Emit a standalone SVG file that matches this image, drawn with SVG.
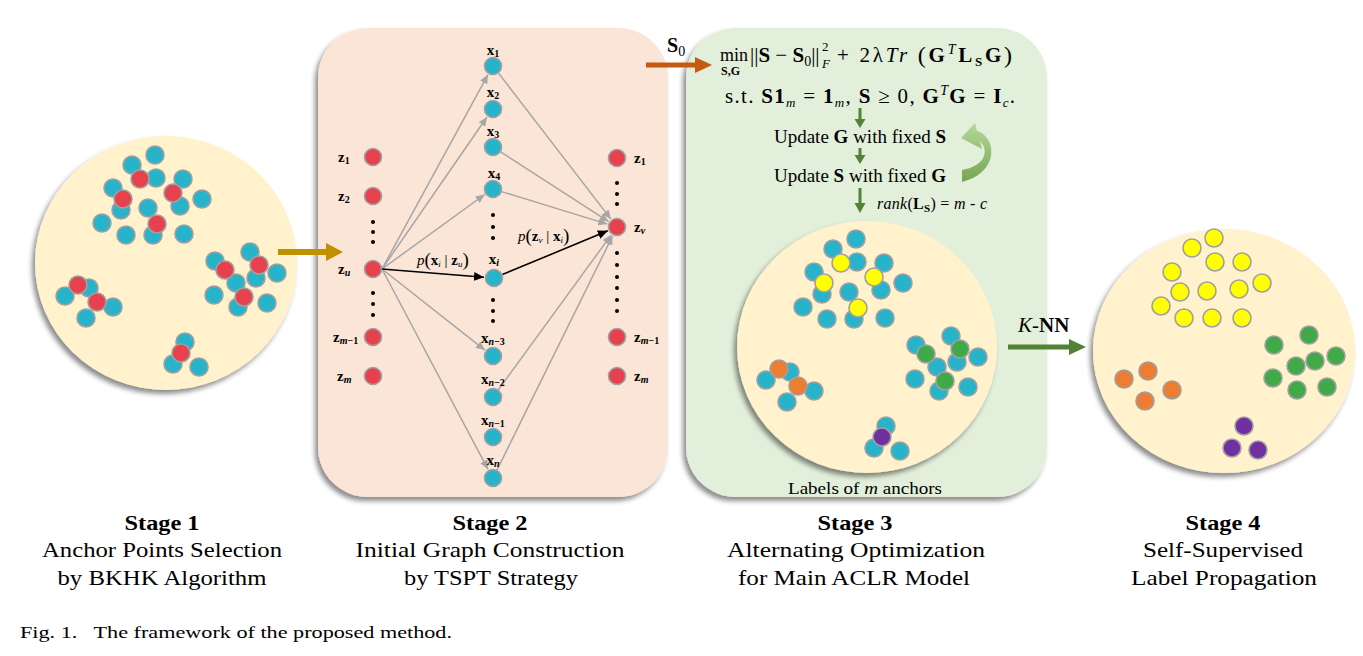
<svg xmlns="http://www.w3.org/2000/svg" width="1363" height="656" viewBox="0 0 1363 656">
<defs>
<style>
.t{fill:#27B4CB;stroke:#A0A0A0;stroke-width:1.6}
.r{fill:#E8414E;stroke:#A0A0A0;stroke-width:1.6}
.y{fill:#FFFF00;stroke:#A0A0A0;stroke-width:1.6}
.g{fill:#3FAA47;stroke:#A0A0A0;stroke-width:1.6}
.o{fill:#ED7D31;stroke:#A0A0A0;stroke-width:1.6}
.p{fill:#7030A0;stroke:#A0A0A0;stroke-width:1.6}
.bg{fill:#FFF2CC}
.ser{font-family:"Liberation Serif","Times New Roman",serif;fill:#000}
.lbl{font-family:"Liberation Serif","Times New Roman",serif;font-size:15px;font-weight:bold;fill:#000}
.st{font-family:"Liberation Serif",serif;font-size:22px;text-anchor:middle;fill:#000}
.eg{stroke:#A6A6A6;stroke-width:1.5;fill:none}
.eb{stroke:#000;stroke-width:1.6;fill:none}
.dot{fill:#000}
</style>
<filter id="sh" x="-10%" y="-10%" width="120%" height="120%">
<feDropShadow dx="-3" dy="4" stdDeviation="2.5" flood-color="#000" flood-opacity="0.45"/>
</filter>
<marker id="ag" markerUnits="userSpaceOnUse" markerWidth="10" markerHeight="8" refX="9" refY="4" orient="auto"><path d="M0,0 L9,4 L0,8 Z" fill="#A6A6A6"/></marker>
<marker id="ab" markerUnits="userSpaceOnUse" markerWidth="11" markerHeight="9" refX="10" refY="4.5" orient="auto"><path d="M0,0 L10,4.5 L0,9 Z" fill="#000"/></marker>
<linearGradient id="cg" x1="0" y1="0" x2="0" y2="1"><stop offset="0" stop-color="#B5D99A"/><stop offset="1" stop-color="#75A552"/></linearGradient>
</defs>
<rect width="1363" height="656" fill="#FFFFFF"/>

<!-- panels -->
<g id="panel2"><rect x="318" y="28" width="350" height="469" rx="50" fill="#FBE5D6" filter="url(#sh)"/></g>
<g id="panel3"><rect x="686" y="28" width="361" height="469" rx="50" fill="#E2EFDA" filter="url(#sh)"/></g>

<!-- Stage 1 -->
<g id="stage1">
<ellipse class="bg" cx="166" cy="263" rx="131" ry="127" filter="url(#sh)"/>
<circle class="t" cx="155" cy="155" r="9"/><circle class="t" cx="132" cy="165" r="9"/><circle class="t" cx="156" cy="178" r="9"/><circle class="t" cx="183" cy="179" r="9"/><circle class="t" cx="113" cy="188" r="9"/><circle class="t" cx="202" cy="199" r="9"/><circle class="t" cx="121" cy="210" r="9"/><circle class="t" cx="180" cy="206" r="9"/><circle class="t" cx="102" cy="223" r="9"/><circle class="t" cx="126" cy="235" r="9"/><circle class="t" cx="153" cy="235" r="9"/><circle class="t" cx="148" cy="208" r="9"/><circle class="t" cx="184" cy="234" r="9"/>
<circle class="t" cx="89" cy="288" r="9"/><circle class="t" cx="65" cy="296" r="9"/><circle class="t" cx="113" cy="307" r="9"/><circle class="t" cx="86" cy="318" r="9"/>
<circle class="t" cx="250" cy="252" r="9"/><circle class="t" cx="215" cy="261" r="9"/><circle class="t" cx="256" cy="278" r="9"/><circle class="t" cx="277" cy="273" r="9"/><circle class="t" cx="236" cy="283" r="9"/><circle class="t" cx="214" cy="295" r="9"/><circle class="t" cx="238" cy="307" r="9"/><circle class="t" cx="267" cy="303" r="9"/>
<circle class="t" cx="185" cy="342" r="9"/><circle class="t" cx="173" cy="364" r="9"/><circle class="t" cx="199" cy="367" r="9"/>
<circle class="r" cx="140" cy="179" r="9"/><circle class="r" cx="173" cy="193" r="9"/><circle class="r" cx="123" cy="199" r="9"/><circle class="r" cx="157" cy="224" r="9"/>
<circle class="r" cx="78" cy="285" r="9"/><circle class="r" cx="97" cy="302" r="9"/>
<circle class="r" cx="225" cy="270" r="9"/><circle class="r" cx="259" cy="265" r="9"/><circle class="r" cx="244" cy="297" r="9"/>
<circle class="r" cx="181" cy="353" r="9"/>
</g>

<!-- Stage 3 circle -->
<g id="stage3-circle">
<ellipse class="bg" cx="867" cy="347" rx="130" ry="126" filter="url(#sh)"/>
<g transform="translate(701,84)">
<circle class="t" cx="155" cy="155" r="9"/><circle class="t" cx="132" cy="165" r="9"/><circle class="t" cx="156" cy="178" r="9"/><circle class="t" cx="183" cy="179" r="9"/><circle class="t" cx="113" cy="188" r="9"/><circle class="t" cx="202" cy="199" r="9"/><circle class="t" cx="121" cy="210" r="9"/><circle class="t" cx="180" cy="206" r="9"/><circle class="t" cx="102" cy="223" r="9"/><circle class="t" cx="126" cy="235" r="9"/><circle class="t" cx="153" cy="235" r="9"/><circle class="t" cx="148" cy="208" r="9"/><circle class="t" cx="184" cy="234" r="9"/>
<circle class="t" cx="89" cy="288" r="9"/><circle class="t" cx="65" cy="296" r="9"/><circle class="t" cx="113" cy="307" r="9"/><circle class="t" cx="86" cy="318" r="9"/>
<circle class="t" cx="250" cy="252" r="9"/><circle class="t" cx="215" cy="261" r="9"/><circle class="t" cx="256" cy="278" r="9"/><circle class="t" cx="277" cy="273" r="9"/><circle class="t" cx="236" cy="283" r="9"/><circle class="t" cx="214" cy="295" r="9"/><circle class="t" cx="238" cy="307" r="9"/><circle class="t" cx="267" cy="303" r="9"/>
<circle class="t" cx="185" cy="342" r="9"/><circle class="t" cx="173" cy="364" r="9"/><circle class="t" cx="199" cy="367" r="9"/>
<circle class="y" cx="140" cy="179" r="9"/><circle class="y" cx="173" cy="193" r="9"/><circle class="y" cx="123" cy="199" r="9"/><circle class="y" cx="157" cy="224" r="9"/>
<circle class="o" cx="78" cy="285" r="9"/><circle class="o" cx="97" cy="302" r="9"/>
<circle class="g" cx="225" cy="270" r="9"/><circle class="g" cx="259" cy="265" r="9"/><circle class="g" cx="244" cy="297" r="9"/>
<circle class="p" cx="181" cy="353" r="9"/>
</g>
<text class="ser" x="865" y="494" font-size="17" text-anchor="middle" textLength="154" lengthAdjust="spacingAndGlyphs">Labels of <tspan font-style="italic">m</tspan> anchors</text>
</g>

<!-- Stage 4 -->
<g id="stage4">
<ellipse class="bg" cx="1224" cy="351" rx="131" ry="122" filter="url(#sh)"/>
<circle class="y" cx="1214" cy="238" r="9"/><circle class="y" cx="1192" cy="248" r="9"/><circle class="y" cx="1215" cy="262" r="9"/><circle class="y" cx="1242" cy="262" r="9"/><circle class="y" cx="1172" cy="272" r="9"/><circle class="y" cx="1262" cy="283" r="9"/><circle class="y" cx="1180" cy="292" r="9"/><circle class="y" cx="1207" cy="291" r="9"/><circle class="y" cx="1239" cy="289" r="9"/><circle class="y" cx="1161" cy="306" r="9"/><circle class="y" cx="1184" cy="318" r="9"/><circle class="y" cx="1212" cy="318" r="9"/><circle class="y" cx="1242" cy="318" r="9"/>
<circle class="g" cx="1309" cy="335" r="9"/><circle class="g" cx="1274" cy="345" r="9"/><circle class="g" cx="1315" cy="361" r="9"/><circle class="g" cx="1336" cy="356" r="9"/><circle class="g" cx="1296" cy="366" r="9"/><circle class="g" cx="1273" cy="378" r="9"/><circle class="g" cx="1297" cy="390" r="9"/><circle class="g" cx="1327" cy="387" r="9"/>
<circle class="o" cx="1148" cy="371" r="9"/><circle class="o" cx="1124" cy="379" r="9"/><circle class="o" cx="1172" cy="390" r="9"/><circle class="o" cx="1145" cy="401" r="9"/>
<circle class="p" cx="1244" cy="426" r="9"/><circle class="p" cx="1232" cy="448" r="9"/><circle class="p" cx="1258" cy="450" r="9"/>
</g>

<!-- connectors -->
<g id="connectors">
<line class="eg" x1="382" y1="269" x2="488" y2="74.6" marker-end="url(#ag)"/>
<line class="eg" x1="382" y1="269" x2="487" y2="117" marker-end="url(#ag)"/>
<line class="eg" x1="382" y1="269" x2="484.7" y2="194.5" marker-end="url(#ag)"/>
<line class="eg" x1="382" y1="269" x2="484.9" y2="350.1" marker-end="url(#ag)"/>
<line class="eg" x1="382" y1="269" x2="488" y2="469.3" marker-end="url(#ag)"/>
<line class="eb" x1="382" y1="269" x2="484" y2="277.3" marker-end="url(#ab)"/>
<line class="eg" x1="498.5" y1="73.1" x2="610.9" y2="219.1" marker-end="url(#ag)"/>
<line class="eg" x1="500.6" y1="151.9" x2="608.6" y2="221.6" marker-end="url(#ag)"/>
<line class="eg" x1="501.6" y1="191.6" x2="607.4" y2="224.1" marker-end="url(#ag)"/>
<line class="eg" x1="498.3" y1="389.7" x2="611.1" y2="235.1" marker-end="url(#ag)"/>
<line class="eg" x1="497" y1="470" x2="612.6" y2="236" marker-end="url(#ag)"/>
<line class="eb" x1="502.3" y1="274.6" x2="607.8" y2="230.8" marker-end="url(#ab)"/>
<line x1="278" y1="252" x2="328" y2="252" stroke="#BF9000" stroke-width="6"/>
<polygon points="326,243 343,252 326,261" fill="#BF9000"/>
<line x1="646" y1="65" x2="698" y2="65" stroke="#C55A11" stroke-width="5"/>
<polygon points="695,57 712,65 695,73" fill="#C55A11"/>
<line x1="1008" y1="347" x2="1072" y2="347" stroke="#548235" stroke-width="5"/>
<polygon points="1069,339 1086,347 1069,355" fill="#548235"/>
<line x1="860" y1="108" x2="860" y2="120" stroke="#548235" stroke-width="3"/>
<polygon points="854.5,119 865.5,119 860,128" fill="#548235"/>
<line x1="860" y1="148" x2="860" y2="156" stroke="#548235" stroke-width="3"/>
<polygon points="854.5,155 865.5,155 860,164" fill="#548235"/>
<line x1="860" y1="188" x2="860" y2="204" stroke="#548235" stroke-width="3"/>
<polygon points="854.5,203 865.5,203 860,213" fill="#548235"/>
<path d="M961 138 L975 123 L977 131 C996 136 1001 172 962 182 L962 170 C986 166 989 150 980 141 L982 149 Z" fill="url(#cg)"/>
</g>

<!-- Stage 2 nodes -->
<g id="z-left">
<g id="zl1"><circle class="r" cx="373" cy="157" r="8.5"/><text class="lbl" x="338" y="162">z<tspan font-size="10" dy="2">1</tspan></text></g>
<g id="zl2"><circle class="r" cx="373" cy="196" r="8.5"/><text class="lbl" x="338" y="201">z<tspan font-size="10" dy="2">2</tspan></text></g>
<g id="zlu"><circle class="r" cx="373" cy="269" r="8.5"/><text class="lbl" x="338" y="274">z<tspan font-size="10" dy="2" font-style="italic">u</tspan></text></g>
<g id="zlm1"><circle class="r" cx="373" cy="337" r="8.5"/><text class="lbl" x="333" y="342">z<tspan font-size="10" dy="2"><tspan font-style="italic">m</tspan>−1</tspan></text></g>
<g id="zlm"><circle class="r" cx="373" cy="376" r="8.5"/><text class="lbl" x="337" y="381">z<tspan font-size="10" dy="2" font-style="italic">m</tspan></text></g>
<circle class="dot" cx="373" cy="222" r="2"/><circle class="dot" cx="373" cy="232" r="2"/><circle class="dot" cx="373" cy="242" r="2"/>
<circle class="dot" cx="373" cy="293" r="2"/><circle class="dot" cx="373" cy="304" r="2"/><circle class="dot" cx="373" cy="315" r="2"/>
</g>
<g id="x-mid">
<g id="x1"><circle class="t" cx="493" cy="66" r="8.5"/><text class="lbl" x="493" y="55" text-anchor="middle">x<tspan font-size="10" dy="2">1</tspan></text></g>
<g id="x2"><circle class="t" cx="493" cy="109" r="8.5"/><text class="lbl" x="493" y="97" text-anchor="middle">x<tspan font-size="10" dy="2">2</tspan></text></g>
<g id="x3"><circle class="t" cx="493" cy="147" r="8.5"/><text class="lbl" x="493" y="136" text-anchor="middle">x<tspan font-size="10" dy="2">3</tspan></text></g>
<g id="x4"><circle class="t" cx="493" cy="189" r="8.5"/><text class="lbl" x="494" y="178" text-anchor="middle">x<tspan font-size="10" dy="2">4</tspan></text></g>
<g id="xi"><circle class="t" cx="494" cy="278" r="8.5"/><text class="lbl" x="494" y="264" text-anchor="middle">x<tspan font-size="10" dy="2" font-style="italic">i</tspan></text></g>
<g id="xn3"><circle class="t" cx="493" cy="356" r="8.5"/><text class="lbl" x="493" y="343" text-anchor="middle">x<tspan font-size="10" dy="2"><tspan font-style="italic">n</tspan>−3</tspan></text></g>
<g id="xn2"><circle class="t" cx="493" cy="397" r="8.5"/><text class="lbl" x="493" y="384" text-anchor="middle">x<tspan font-size="10" dy="2"><tspan font-style="italic">n</tspan>−2</tspan></text></g>
<g id="xn1"><circle class="t" cx="493" cy="437" r="8.5"/><text class="lbl" x="493" y="425" text-anchor="middle">x<tspan font-size="10" dy="2"><tspan font-style="italic">n</tspan>−1</tspan></text></g>
<g id="xn"><circle class="t" cx="493" cy="478" r="8.5"/><text class="lbl" x="493" y="465" text-anchor="middle">x<tspan font-size="10" dy="2" font-style="italic">n</tspan></text></g>
<circle class="dot" cx="493" cy="215" r="2"/><circle class="dot" cx="493" cy="227" r="2"/><circle class="dot" cx="493" cy="238" r="2"/>
<circle class="dot" cx="493" cy="300" r="2"/><circle class="dot" cx="493" cy="311" r="2"/><circle class="dot" cx="493" cy="321" r="2"/>
</g>
<g id="z-right">
<g id="zr1"><circle class="r" cx="617" cy="158" r="8.5"/><text class="lbl" x="634" y="163">z<tspan font-size="10" dy="2">1</tspan></text></g>
<g id="zrv"><circle class="r" cx="617" cy="227" r="8.5"/><text class="lbl" x="634" y="232">z<tspan font-size="10" dy="2" font-style="italic">v</tspan></text></g>
<g id="zrm1"><circle class="r" cx="617" cy="337" r="8.5"/><text class="lbl" x="634" y="342">z<tspan font-size="10" dy="2"><tspan font-style="italic">m</tspan>−1</tspan></text></g>
<g id="zrm"><circle class="r" cx="617" cy="376" r="8.5"/><text class="lbl" x="634" y="381">z<tspan font-size="10" dy="2" font-style="italic">m</tspan></text></g>
<circle class="dot" cx="617" cy="183" r="2"/><circle class="dot" cx="617" cy="194" r="2"/><circle class="dot" cx="617" cy="204" r="2"/>
<circle class="dot" cx="617" cy="253" r="2"/><circle class="dot" cx="617" cy="265" r="2"/><circle class="dot" cx="617" cy="277" r="2"/><circle class="dot" cx="617" cy="288" r="2"/><circle class="dot" cx="617" cy="300" r="2"/><circle class="dot" cx="617" cy="311" r="2"/>
</g>
<g id="edge-labels">
<text class="ser" x="417" y="265" font-size="15"><tspan font-style="italic">p</tspan><tspan font-size="19" dy="1">(</tspan><tspan font-weight="bold" dy="-1">x</tspan><tspan font-size="9" dy="2" font-style="italic">i</tspan><tspan dy="-2"> | </tspan><tspan font-weight="bold">z</tspan><tspan font-size="9" dy="2" font-style="italic">u</tspan><tspan font-size="19" dy="-1">)</tspan></text>
<text class="ser" x="518" y="241" font-size="15"><tspan font-style="italic">p</tspan><tspan font-size="19" dy="1">(</tspan><tspan font-weight="bold" dy="-1">z</tspan><tspan font-size="9" dy="2" font-style="italic">v</tspan><tspan dy="-2"> | </tspan><tspan font-weight="bold">x</tspan><tspan font-size="9" dy="2" font-style="italic">i</tspan><tspan font-size="19" dy="-1">)</tspan></text>
</g>

<!-- Stage 3 texts -->
<g id="optim">
<text class="ser" x="667" y="52" font-size="20" font-weight="bold">S<tspan font-size="14" font-weight="normal" dy="4">0</tspan></text>
<text class="ser" x="720" y="61" font-size="18">min</text>
<text class="ser" x="721" y="75" font-size="12" font-weight="bold">S,G</text>
<text class="ser" x="750" y="62" font-size="21">||<tspan font-weight="bold">S</tspan> − <tspan font-weight="bold">S</tspan><tspan font-size="14" dy="4">0</tspan><tspan dy="-4">||</tspan></text>
<text class="ser" x="822" y="51" font-size="13">2</text>
<text class="ser" x="822" y="68" font-size="13" font-style="italic">F</text>
<text class="ser" x="837" y="62" font-size="21" textLength="175" lengthAdjust="spacing">+ 2λ<tspan font-style="italic">Tr</tspan> <tspan font-size="24" dy="1">(</tspan><tspan font-weight="bold" dy="-1">G</tspan><tspan font-size="14" font-style="italic" dy="-8">T</tspan><tspan font-weight="bold" dy="8">L</tspan><tspan font-size="13" font-weight="bold" dy="4">S</tspan><tspan font-weight="bold" dy="-4">G</tspan><tspan font-size="24" dy="1">)</tspan></text>
<text class="ser" x="725" y="103" font-size="21" textLength="290" lengthAdjust="spacing">s.t. <tspan font-weight="bold">S1</tspan><tspan font-size="13" font-style="italic" dy="4">m</tspan><tspan dy="-4"> = </tspan><tspan font-weight="bold">1</tspan><tspan font-size="13" font-style="italic" dy="4">m</tspan><tspan dy="-4">, </tspan><tspan font-weight="bold">S</tspan> ≥ 0, <tspan font-weight="bold">G</tspan><tspan font-size="14" font-style="italic" dy="-8">T</tspan><tspan font-weight="bold" dy="8">G</tspan> = <tspan font-weight="bold">I</tspan><tspan font-size="13" font-style="italic" dy="4">c</tspan><tspan dy="-4">.</tspan></text>
<text class="ser" x="860" y="143" font-size="19" text-anchor="middle">Update <tspan font-weight="bold">G</tspan> with fixed <tspan font-weight="bold">S</tspan></text>
<text class="ser" x="860" y="182" font-size="19" text-anchor="middle">Update <tspan font-weight="bold">S</tspan> with fixed <tspan font-weight="bold">G</tspan></text>
<text class="ser" x="877" y="209" font-size="16" textLength="110" lengthAdjust="spacing"><tspan font-style="italic">rank</tspan>(<tspan font-weight="bold">L</tspan><tspan font-size="11" font-weight="bold" dy="3">S</tspan><tspan dy="-3">) = </tspan><tspan font-style="italic">m</tspan> - <tspan font-style="italic">c</tspan></text>
<text class="ser" x="1018" y="332" font-size="21"><tspan font-style="italic">K</tspan>-<tspan font-weight="bold">NN</tspan></text>
</g>

<!-- Stage labels -->
<g id="labels">
<text class="st" x="162" y="530" font-weight="bold" textLength="75" lengthAdjust="spacingAndGlyphs">Stage 1</text>
<text class="st" x="162" y="557" textLength="240" lengthAdjust="spacingAndGlyphs">Anchor Points Selection</text>
<text class="st" x="162" y="585" textLength="209" lengthAdjust="spacingAndGlyphs">by BKHK Algorithm</text>
<text class="st" x="490" y="530" font-weight="bold" textLength="75" lengthAdjust="spacingAndGlyphs">Stage 2</text>
<text class="st" x="490" y="557" textLength="269" lengthAdjust="spacingAndGlyphs">Initial Graph Construction</text>
<text class="st" x="491" y="585" textLength="174" lengthAdjust="spacingAndGlyphs">by TSPT Strategy</text>
<text class="st" x="855" y="530" font-weight="bold" textLength="75" lengthAdjust="spacingAndGlyphs">Stage 3</text>
<text class="st" x="856" y="557" textLength="258" lengthAdjust="spacingAndGlyphs">Alternating Optimization</text>
<text class="st" x="854" y="585" textLength="232" lengthAdjust="spacingAndGlyphs">for Main ACLR Model</text>
<text class="st" x="1223" y="530" font-weight="bold" textLength="75" lengthAdjust="spacingAndGlyphs">Stage 4</text>
<text class="st" x="1223" y="557" textLength="160" lengthAdjust="spacingAndGlyphs">Self-Supervised</text>
<text class="st" x="1224" y="585" textLength="186" lengthAdjust="spacingAndGlyphs">Label Propagation</text>
<text class="ser" x="20" y="638" font-size="16" textLength="432" lengthAdjust="spacingAndGlyphs" xml:space="preserve">Fig. 1.   The framework of the proposed method.</text>
</g>
</svg>
